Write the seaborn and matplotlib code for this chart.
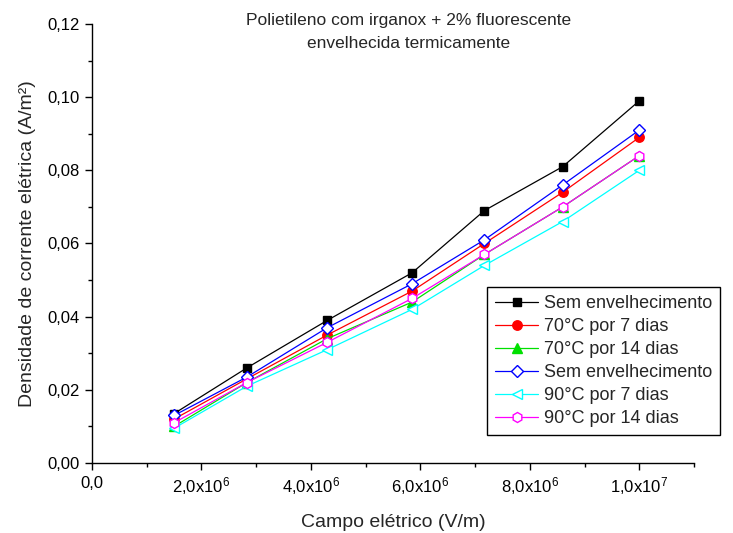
import matplotlib
matplotlib.use("Agg")
import matplotlib.pyplot as plt
import seaborn as sns
import numpy as np
from matplotlib.ticker import MultipleLocator, FuncFormatter, FixedLocator, FixedFormatter

# ---- data ----
campo = [1.5e6, 2.83e6, 4.3e6, 5.85e6, 7.17e6, 8.6e6, 1.0e7]
sem_env_1 = [0.0135, 0.026, 0.039, 0.052, 0.069, 0.081, 0.099]
c70_7 = [0.012, 0.023, 0.035, 0.047, 0.060, 0.074, 0.089]
c70_14 = [0.010, 0.022, 0.034, 0.044, 0.057, 0.070, 0.084]
sem_env_2 = [0.013, 0.0235, 0.037, 0.049, 0.061, 0.076, 0.091]
c90_7 = [0.0095, 0.021, 0.031, 0.042, 0.054, 0.066, 0.080]
c90_14 = [0.011, 0.022, 0.033, 0.045, 0.057, 0.070, 0.084]

labels = ["Sem envelhecimento", "70°C por 7 dias", "70°C por 14 dias",
          "Sem envelhecimento", "90°C por 7 dias", "90°C por 14 dias"]
xtick_vals = [0, 2e6, 4e6, 6e6, 8e6, 1e7]
xtick_labels = ["0,0", r"2,0x10$^{6}$", r"4,0x10$^{6}$", r"6,0x10$^{6}$",
                r"8,0x10$^{6}$", r"1,0x10$^{7}$"]

sns.set_theme(style="ticks")
plt.rcParams["font.family"] = ["Liberation Sans", "DejaVu Sans"]
plt.rcParams["mathtext.fontset"] = "custom"
plt.rcParams["mathtext.rm"] = "Liberation Sans"
plt.rcParams["mathtext.it"] = "Liberation Sans:italic"
plt.rcParams["mathtext.bf"] = "Liberation Sans:bold"

fig = plt.figure(figsize=(7.33, 5.33), dpi=100)
ax = fig.add_axes([92/733, 1-463/533, (694-92)/733, (463-24)/533])

series = [sem_env_1, c70_7, c70_14, sem_env_2, c90_7, c90_14]
styles = [
    dict(color="black", marker="s", mfc="black"),
    dict(color="red", marker="o", mfc="red"),
    dict(color="#00e000", marker="^", mfc="#00e000"),
    dict(color="blue", marker="D", mfc="white"),
    dict(color="cyan", marker="<", mfc="white"),
    dict(color="magenta", marker="h", mfc="white"),
]
sizes = [6.2, 6.8, 6.8, 5.8, 7.5, 7.2]
for ys, lab, st, ms in zip(series, labels, styles, sizes):
    sns.lineplot(x=campo, y=ys, ax=ax, label=lab, color=st["color"],
                 marker=st["marker"], markerfacecolor=st["mfc"],
                 markeredgecolor=st["color"], markeredgewidth=1.0,
                 markersize=ms, linewidth=0.9)

ax.set_xlim(0, 1.1e7)
ax.set_ylim(0, 0.12)
ax.xaxis.set_major_locator(FixedLocator(xtick_vals))
ax.xaxis.set_major_formatter(FixedFormatter(xtick_labels))
ax.xaxis.set_minor_locator(MultipleLocator(1e6))
ax.yaxis.set_major_locator(MultipleLocator(0.02))
ax.yaxis.set_minor_locator(MultipleLocator(0.01))
ax.yaxis.set_major_formatter(FuncFormatter(lambda v, p: f"{v:.2f}".replace(".", ",")))

sns.despine(ax=ax)
for s in ["left", "bottom"]:
    ax.spines[s].set_linewidth(1.0)
    ax.spines[s].set_color("black")
ax.tick_params(which="major", direction="out", length=5, width=1.0,
               labelsize=12, colors="black", pad=4)
ax.tick_params(which="minor", direction="out", length=3, width=1.0, colors="black")

ax.set_xlabel("Campo elétrico (V/m)", fontsize=14, labelpad=12)
ax.set_ylabel("Densidade de corrente elétrica (A/m²)", fontsize=14, labelpad=8)

fig.text(409/733, 1-20/533, "Polietileno com irganox + 2% fluorescente",
         ha="center", va="center", fontsize=12.5)
fig.text(409/733, 1-43/533, "envelhecida termicamente",
         ha="center", va="center", fontsize=12.5)

leg = ax.legend(loc="upper left", bbox_to_anchor=(487/733, 1-287/533),
                bbox_transform=fig.transFigure, frameon=True, fancybox=False,
                fontsize=13, labelspacing=0.33, handlelength=2.4,
                handletextpad=0.3, borderpad=0.45, borderaxespad=0)
leg.get_frame().set_edgecolor("black")
leg.get_frame().set_linewidth(1.0)
leg.get_frame().set_facecolor("white")
leg.get_frame().set_alpha(1)

fig.savefig("out.png", dpi=100)
